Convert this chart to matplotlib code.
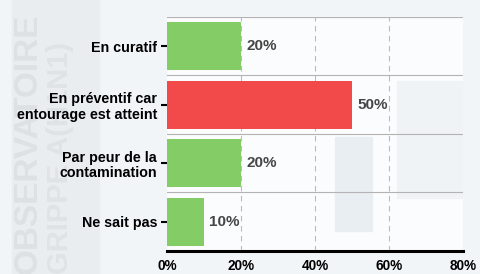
import numpy as np
import matplotlib.pyplot as plt
from matplotlib.ticker import FuncFormatter
from matplotlib.patches import Rectangle

plt.rcParams.update({
    "font.family": ["Liberation Sans", "DejaVu Sans"],
    "font.weight": "bold",
})

categories = ["En curatif", "En préventif car\nentourage est atteint",
              "Par peur de la\ncontamination", "Ne sait pas"]
values = [20, 50, 20, 10]
colors = ["#84cc66", "#f24a4a", "#84cc66", "#84cc66"]
xticks = [0, 20, 40, 60, 80]

fig = plt.figure(figsize=(4.81, 2.74), dpi=100, facecolor="#f2f5f8")

# filigrane en arriere-plan
fig.patches.append(Rectangle((0.025, 0), 0.18, 1, transform=fig.transFigure,
                             color="#e9edf0", zorder=0))
fig.text(0.058, 0.0, "OBSERVATOIRE", rotation=90, fontsize=24, color="#dde1e4",
         ha="center", va="bottom", fontweight="bold", zorder=0.5)
fig.text(0.125, 0.0, "GRIPPE A(H1N1)", rotation=90, fontsize=21, color="#dfe3e6",
         ha="center", va="bottom", fontweight="bold", zorder=0.5)

ax = fig.add_axes([0.347, 0.084, 0.616, 0.854])
ax.set_zorder(2)
ax.set_facecolor("#fbfcfd")
ax.add_patch(Rectangle((45.5, 1.55), 10, 1.6, color="#e9eef2", zorder=0))
ax.add_patch(Rectangle((62, 0.6), 18, 2.0, color="#eff3f6", zorder=0))

y = np.arange(len(categories))
ax.barh(y, values, height=0.82, color=colors, zorder=3)
for yi, v in zip(y, values):
    ax.text(v + 1.4, yi, f"{v}%", va="center", ha="left", fontsize=11,
            color="#464646", fontweight="bold", zorder=4)

ax.set_xlim(0, 80)
ax.set_ylim(3.5, -0.5)
ax.set_xticks(xticks)
ax.xaxis.set_major_formatter(FuncFormatter(lambda v, p: f"{v:.0f}%"))
ax.set_yticks(y)
ax.set_yticklabels(categories, fontsize=10.3, fontweight="bold", linespacing=1.15)
for lab in ax.get_xticklabels():
    lab.set_fontweight("bold")
    lab.set_fontsize(9.8)

ax.tick_params(axis="x", length=0, pad=6)
ax.tick_params(axis="y", length=4, width=1.5, pad=3)

for x in xticks[1:-1]:
    ax.axvline(x, color="#bbbbbb", lw=0.8, ls=(0, (5, 4)), zorder=1)
for sep in [-0.5, 0.5, 1.5, 2.5]:
    ax.axhline(sep, color="#b3b3b3", lw=0.8, zorder=2)

for s in ["top", "right", "left"]:
    ax.spines[s].set_visible(False)
ax.spines["bottom"].set_linewidth(2.2)
ax.spines["bottom"].set_zorder(5)

fig.savefig("out.png", dpi=100, facecolor=fig.get_facecolor())
